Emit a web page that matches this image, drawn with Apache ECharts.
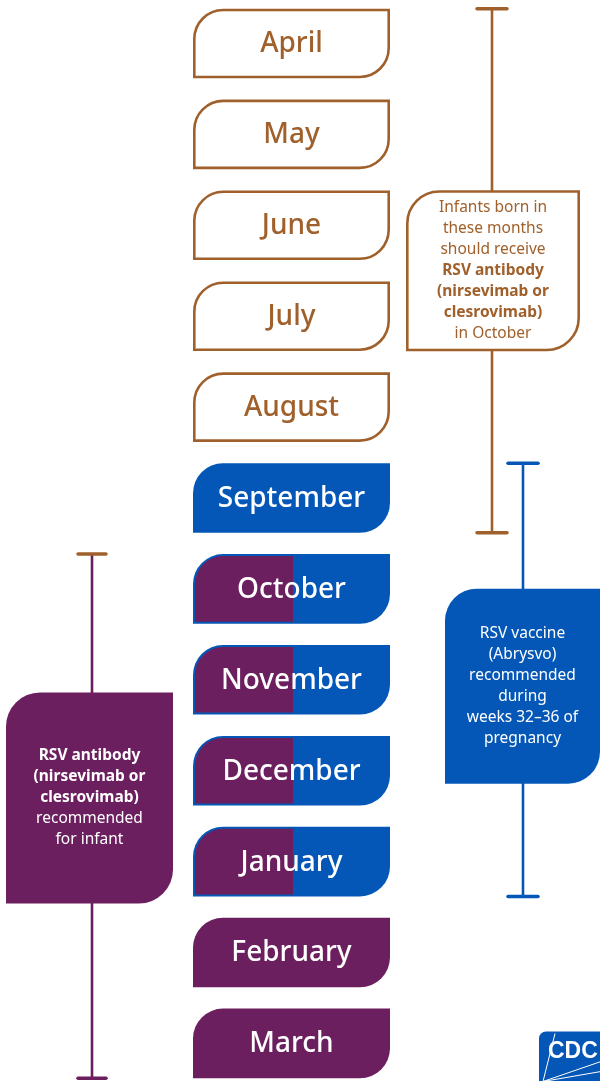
<!DOCTYPE html>
<html>
<head>
<meta charset="utf-8">
<script src="https://cdn.jsdelivr.net/npm/echarts@6/dist/echarts.min.js"></script>
<style>
  html, body { margin: 0; padding: 0; background: #fff; }
  #chart { width: 600px; height: 1081px; }
</style>
</head>
<body>
<div id="chart"></div>
<script>
  // months of birth, top to bottom
  const months = ['April', 'May', 'June', 'July', 'August', 'September',
    'October', 'November', 'December', 'January', 'February', 'March'];
  // which product covers each month
  const monthType = ['outline', 'outline', 'outline', 'outline', 'outline', 'vaccine',
    'both', 'both', 'both', 'both', 'antibody', 'antibody'];

  // brackets on the side
  const bracketType = ['outline', 'vaccine', 'antibody'];
  const bracketFrom = ['April', 'September', 'October'];
  const bracketTo = ['September', 'January', 'March'];

  // callout texts, '*' = bold line
  const noteOutline = ['Infants born in', 'these months', 'should receive',
    '*RSV antibody', '*(nirsevimab or', '*clesrovimab)', 'in October'];
  const noteVaccine = ['RSV vaccine', '(Abrysvo)', 'recommended', 'during',
    'weeks 32\u201336 of', 'pregnancy'];
  const noteAntibody = ['*RSV antibody', '*(nirsevimab or', '*clesrovimab)',
    'recommended', 'for infant'];
  const notes = { outline: noteOutline, vaccine: noteVaccine, antibody: noteAntibody };

  const colors = { outline: '#A0602B', vaccine: '#0457B6', antibody: '#6C1F5F' };
  const FONT = '"Noto Sans", Lato, sans-serif';

  // layout, in px of the 0-600 x axis
  const L = {
    boxLeft: 193, boxRight: 390, split: 293, half: 34.8, r: 30,
    bracket: {
      outline: { x: 492, cap: 15, top: '#A0602B' },
      vaccine: { x: 523, cap: 15, top: '#0457B6' },
      antibody: { x: 92, cap: 14, top: '#A0602B' }
    },
    note: {
      outline: { left: 406, right: 580, slot: 2.5, h: 161, r: 32 },
      vaccine: { left: 445, right: 600, slot: 7.07, h: 195, r: 32 },
      antibody: { left: 6, right: 173, slot: 8.3, h: 211, r: 34 }
    }
  };

  // box with rounded top-left and bottom-right corners
  function tab(x0, y0, x1, y1, r1, r2) {
    let d = 'M' + x0 + ' ' + (y0 + r1);
    if (r1) d += ' A' + r1 + ' ' + r1 + ' 0 0 1 ' + (x0 + r1) + ' ' + y0;
    d += ' L' + x1 + ' ' + y0 + ' L' + x1 + ' ' + (y1 - r2);
    if (r2) d += ' A' + r2 + ' ' + r2 + ' 0 0 1 ' + (x1 - r2) + ' ' + y1;
    d += ' L' + x0 + ' ' + y1 + ' Z';
    return d;
  }

  function richText(lines) {
    return lines.map(s => s[0] === '*' ? '{b|' + s.slice(1) + '}' : '{n|' + s + '}').join('\n');
  }

  function renderMonth(params, api) {
    const i = api.value(1);
    const y = api.coord([0, i])[1];
    const xl = api.coord([L.boxLeft, i])[0];
    const xr = api.coord([L.boxRight, i])[0];
    const xs = api.coord([L.split, i])[0];
    const t = y - L.half, b = y + L.half;
    const type = monthType[params.dataIndex];
    const children = [];
    let textColor = '#fff';
    if (type === 'outline') {
      children.push({ type: 'path', shape: { pathData: tab(xl + 1.3, t + 1.3, xr - 1.3, b - 1.3, L.r - 1, L.r - 1) },
        style: { fill: '#fff', stroke: colors.outline, lineWidth: 2.6 } });
      textColor = colors.outline;
    } else {
      const main = type === 'antibody' ? colors.antibody : colors.vaccine;
      children.push({ type: 'path', shape: { pathData: tab(xl, t, xr, b, L.r, L.r) }, style: { fill: main } });
      if (type === 'both') {
        children.push({ type: 'path', shape: { pathData: tab(xl + 2, t + 2, xs, b - 2, L.r - 2, 0) },
          style: { fill: colors.antibody } });
      }
    }
    children.push({ type: 'text', style: { text: months[params.dataIndex], x: (xl + xr) / 2, y: y + 1,
      align: 'center', verticalAlign: 'middle', fill: textColor, fontFamily: FONT, fontSize: 28, fontWeight: 500 } });
    return { type: 'group', children: children };
  }

  function renderBracket(params, api) {
    const key = bracketType[params.dataIndex];
    const bk = L.bracket[key], nt = L.note[key];
    const c = colors[key];
    const from = api.value(1), to = api.value(2);
    const x = api.coord([bk.x, from])[0];
    const y0 = api.coord([0, from])[1] - L.half;
    const y1 = api.coord([0, to])[1] + L.half;
    const band = api.size([0, 1])[1];
    const cy = api.coord([0, nt.slot])[1];
    const nl = api.coord([nt.left, nt.slot])[0], nr = api.coord([nt.right, nt.slot])[0];
    const nt0 = cy - nt.h / 2, nb = cy + nt.h / 2;
    const txtColor = key === 'outline' ? c : '#fff';
    const children = [
      { type: 'line', shape: { x1: x, y1: y0, x2: x, y2: y1 }, style: { stroke: c, lineWidth: 2.6 } },
      { type: 'line', shape: { x1: x - bk.cap, y1: y0, x2: x + bk.cap, y2: y0 }, style: { stroke: bk.top, lineWidth: 3.5, lineCap: 'round' } },
      { type: 'line', shape: { x1: x - bk.cap, y1: y1, x2: x + bk.cap, y2: y1 }, style: { stroke: c, lineWidth: 3.5, lineCap: 'round' } }
    ];
    if (key === 'outline') {
      children.push({ type: 'path', shape: { pathData: tab(nl + 1.3, nt0 + 1.3, nr - 1.3, nb - 1.3, nt.r, nt.r) },
        style: { fill: '#fff', stroke: c, lineWidth: 2.6 } });
    } else {
      children.push({ type: 'path', shape: { pathData: tab(nl, nt0, nr, nb, nt.r, nt.r) }, style: { fill: c } });
    }
    const base = { fill: txtColor, fontFamily: FONT, fontSize: 15.5, lineHeight: 21 };
    children.push({ type: 'text', style: { text: richText(notes[key]), x: (nl + nr) / 2, y: cy,
      align: 'center', verticalAlign: 'middle',
      rich: { n: Object.assign({}, base), b: Object.assign({ fontWeight: 'bold' }, base) } } });
    return { type: 'group', children: children };
  }

  const chart = echarts.init(document.getElementById('chart'));
  chart.setOption({
    backgroundColor: '#fff',
    animation: false,
    grid: { left: 0, right: 0, top: 0, bottom: 0 },
    xAxis: { type: 'value', min: 0, max: 600, show: false },
    // month slots: index 0 (April) centred at 43.5px, 90.9px apart
    yAxis: { type: 'value', inverse: true, min: -0.4786, max: 11.4136, show: false },
    series: [
      {
        type: 'custom',
        name: 'brackets',
        renderItem: renderBracket,
        encode: { x: 0, y: [1, 2] },
        data: bracketType.map((t, k) => [0, months.indexOf(bracketFrom[k]), months.indexOf(bracketTo[k])])
      },
      {
        type: 'custom',
        name: 'months',
        renderItem: renderMonth,
        encode: { x: 0, y: 1 },
        data: months.map((m, i) => [0, i])
      }
    ],
    graphic: [
      {
        type: 'group', left: 539, top: 1031,
        children: [
          { type: 'rect', shape: { x: 0, y: 0, width: 70, height: 56, r: [7, 0, 0, 0] }, style: { fill: colors.vaccine } },
          { type: 'line', shape: { x1: 4, y1: 50, x2: 16, y2: 2 }, style: { stroke: '#fff', lineWidth: 1 } },
          { type: 'line', shape: { x1: 4, y1: 50, x2: 62, y2: 30 }, style: { stroke: '#fff', lineWidth: 1 } },
          { type: 'line', shape: { x1: 4, y1: 50, x2: 62, y2: 40 }, style: { stroke: '#fff', lineWidth: 1 } },
          { type: 'line', shape: { x1: 4, y1: 50, x2: 40, y2: 50 }, style: { stroke: '#fff', lineWidth: 1 } },
          { type: 'text', style: { text: 'CDC', x: 9, y: 9, fill: '#fff', font: 'bold 23px "Liberation Sans", sans-serif' } }
        ]
      }
    ]
  });
</script>
</body>
</html>
